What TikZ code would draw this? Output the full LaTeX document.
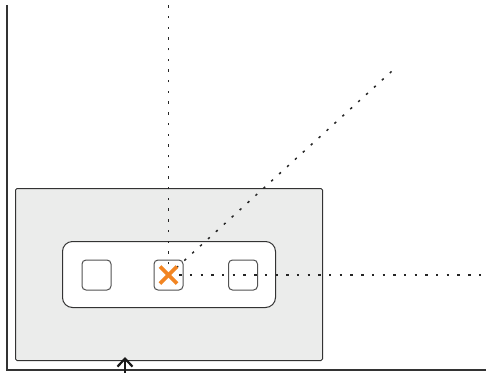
\documentclass[tikz,border=0pt]{standalone}
\usetikzlibrary{arrows.meta}
\definecolor{panelgray}{HTML}{EBECEB}
\definecolor{linegray}{HTML}{333333}
\definecolor{xorange}{HTML}{F28522}
\tikzset{
  axis/.style={draw=linegray, line width=1.5pt},
  panel/.style={draw=linegray, line width=1pt, fill=panelgray, rounded corners=1.5pt},
  strip/.style={draw=linegray, line width=1pt, fill=white, rounded corners=10pt},
  cell/.style={draw=linegray!85, line width=1pt, fill=white, rounded corners=4pt},
  guide/.style={draw=black!85, line width=1.5pt, dash pattern=on 2.4pt off 8.3pt},
  cross/.style={draw=xorange, line width=3.6pt},
  marker/.style={draw=black!90, line width=2.2pt, -{Straight Barb[length=8pt,width=15pt]}},
}
\begin{document}
\begin{tikzpicture}[x=1pt,y=-1pt]
\useasboundingbox (0,0) rectangle (486,372);
% axes
\coordinate (otop) at (7,5);
\coordinate (o) at (7,370);
\coordinate (oright) at (486,370);
\draw[axis] (otop) -- (o) -- (oright);
% panel
\node[panel, minimum width=307pt, minimum height=172pt, inner sep=0pt, anchor=north west] (panel) at (15,188) {};
\node[strip, minimum width=213pt, minimum height=66pt, inner sep=0pt, anchor=north west] (strip) at (62,241) {};
\node[cell, minimum width=29pt, minimum height=30pt, inner sep=0pt] (c1) at (96.5,275) {};
\node[cell, minimum width=29pt, minimum height=30pt, inner sep=0pt] (c2) at (168.5,275) {};
\node[cell, minimum width=29pt, minimum height=30pt, inner sep=0pt] (c3) at (243,275) {};
% guides
\coordinate (gtop) at (168.5,0);
\coordinate (gdiag) at (392,71);
\coordinate (gright) at (486,275);
\draw[guide] (c2.center) -- (gtop);
\draw[guide] (c2.center) -- (gdiag);
\draw[guide] (c2.center) -- (gright);
% cross
\draw[cross] ([shift={(-8.5,-8.5)}]c2.center) -- ([shift={(8.5,8.5)}]c2.center);
\draw[cross] ([shift={(-8.5,8.5)}]c2.center) -- ([shift={(8.5,-8.5)}]c2.center);
% arrow marker
\coordinate (mbot) at (125,374);
\coordinate (mtip) at (125,357);
\draw[marker] (mbot) -- (mtip);
\end{tikzpicture}
\end{document}
